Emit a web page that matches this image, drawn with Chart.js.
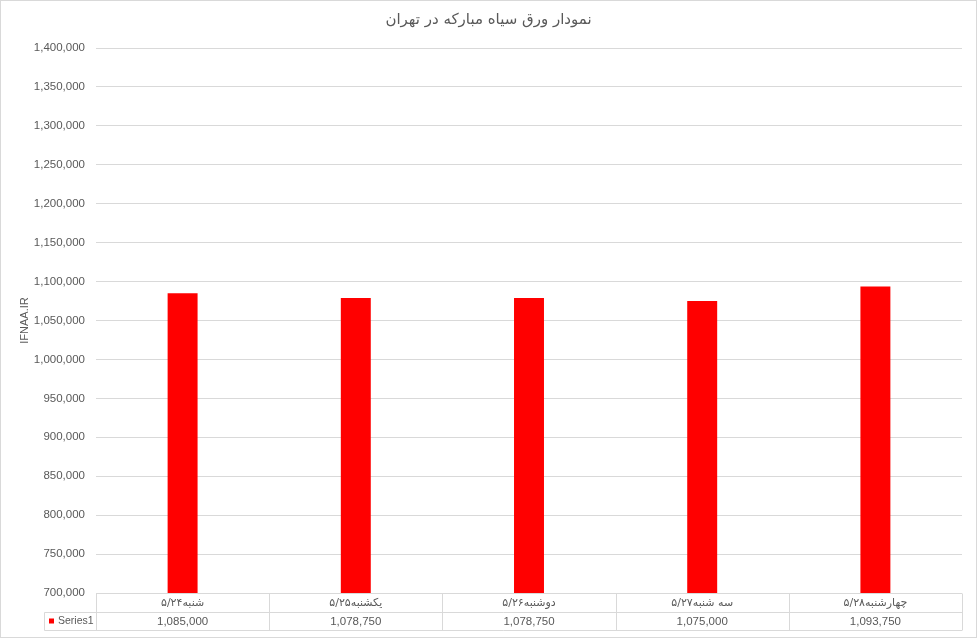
<!DOCTYPE html>
<html>
<head>
<meta charset="utf-8">
<script src="https://cdn.jsdelivr.net/npm/chart.js@4.4.1/dist/chart.umd.min.js"></script>
<style>
  html, body { margin: 0; padding: 0; background: #fff; }
  #wrap { width: 977px; height: 638px; position: relative; }
</style>
</head>
<body>
<div id="wrap"><canvas id="chart"></canvas></div>
<script>
const chartTitle = "نمودار ورق سیاه مبارکه در تهران";
const axisTitle = "IFNAA.IR";
const seriesName = "Series1";
const categories = ["شنبه۵/۲۴", "یکشنبه۵/۲۵", "دوشنبه۵/۲۶", "سه شنبه۵/۲۷", "چهارشنبه۵/۲۸"];
const series1 = [1085000, 1078750, 1078750, 1075000, 1093750];
const yMin = 700000;
const yMax = 1400000;
const yStep = 50000;

const grey = "#595959";
const lineGrey = "#d9d9d9";
const latin = "'Liberation Sans', 'DejaVu Sans', sans-serif";
const persian = "Tahoma, 'DejaVu Sans', sans-serif";

const fmt = (v) => v.toLocaleString("en-US");

// frame around the chart plus the data table under the plot
const frameAndTable = {
  id: "frameAndTable",
  beforeDraw(chart) {
    const ctx = chart.ctx;
    ctx.save();
    ctx.fillStyle = "#fff";
    ctx.fillRect(0, 0, chart.width, chart.height);
    ctx.strokeStyle = lineGrey;
    ctx.lineWidth = 1;
    ctx.strokeRect(0.5, 0.5, chart.width - 1, chart.height - 1);
    ctx.restore();
  },
  afterDraw(chart) {
    const { ctx, chartArea: a, scales: { x } } = chart;
    const top = Math.round(a.bottom) + 0.5;
    const mid = top + 19;
    const bot = mid + 18;
    const legendLeft = 44.5;
    const half = (x.getPixelForValue(1) - x.getPixelForValue(0)) / 2;

    ctx.save();
    ctx.strokeStyle = lineGrey;
    ctx.lineWidth = 1;
    ctx.beginPath();
    ctx.moveTo(a.left, top); ctx.lineTo(a.right, top);
    ctx.moveTo(legendLeft, mid); ctx.lineTo(a.right, mid);
    ctx.moveTo(legendLeft, bot); ctx.lineTo(a.right, bot);
    ctx.moveTo(legendLeft, mid); ctx.lineTo(legendLeft, bot);
    for (let i = 0; i <= categories.length; i++) {
      const px = Math.round(x.getPixelForValue(0) - half + i * 2 * half) + 0.5;
      ctx.moveTo(px, top); ctx.lineTo(px, bot);
    }
    ctx.stroke();

    ctx.fillStyle = grey;
    ctx.textAlign = "center";
    ctx.textBaseline = "middle";
    categories.forEach((c, i) => {
      const cx = x.getPixelForValue(i);
      ctx.font = "11px " + persian;
      ctx.fillText(c, cx, top + 9.5);
      ctx.font = "11.5px " + latin;
      ctx.fillText(fmt(series1[i]), cx, mid + 9);
    });

    ctx.fillStyle = "#ff0000";
    ctx.fillRect(49, mid + 6, 5, 5);
    ctx.fillStyle = grey;
    ctx.textAlign = "left";
    ctx.font = "10.5px " + latin;
    ctx.fillText(seriesName, 58, mid + 9);
    ctx.restore();
  }
};

new Chart(document.getElementById("chart"), {
  type: "bar",
  data: {
    labels: categories,
    datasets: [{
      label: seriesName,
      data: series1,
      backgroundColor: "#ff0000",
      borderWidth: 0,
      categoryPercentage: 1,
      barPercentage: 0.173
    }]
  },
  options: {
    responsive: true,
    maintainAspectRatio: false,
    animation: false,
    layout: { padding: { left: 0, right: 0, top: 0, bottom: 45 } },
    plugins: {
      legend: { display: false },
      tooltip: { enabled: false },
      title: {
        display: true,
        text: chartTitle,
        color: grey,
        font: { family: persian, size: 15, weight: "normal" },
        padding: { top: 11, bottom: 19 }
      }
    },
    scales: {
      x: { display: false },
      y: {
        min: yMin,
        max: yMax,
        afterFit(scale) { scale.width = 96; },
        ticks: {
          stepSize: yStep,
          color: grey,
          padding: 11,
          font: { family: latin, size: 11.5 },
          callback: (v) => fmt(v)
        },
        grid: { color: lineGrey, drawTicks: false },
        border: { display: false },
        title: {
          display: true,
          text: axisTitle,
          color: grey,
          font: { family: latin, size: 11 },
          padding: { top: 18, bottom: 0 }
        }
      },
      // empty strip on the right so the plot stops short of the frame
      yRight: {
        position: "right",
        min: yMin,
        max: yMax,
        afterFit(scale) { scale.width = 15; },
        ticks: { display: false },
        grid: { display: false },
        border: { display: false }
      }
    }
  },
  plugins: [frameAndTable]
});
</script>
</body>
</html>
